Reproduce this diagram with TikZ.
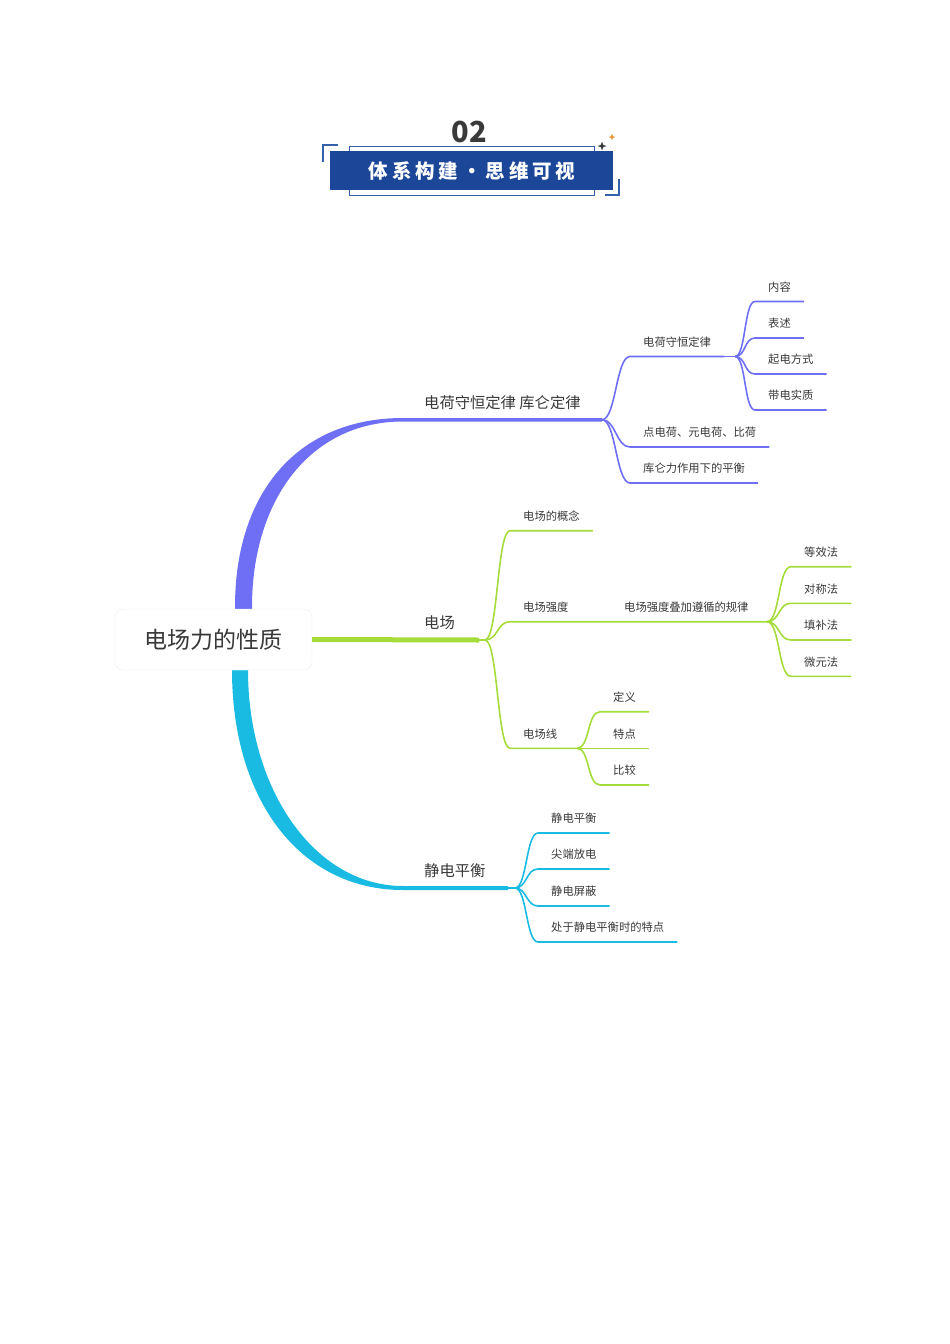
\documentclass[tikz,border=0pt]{standalone}
\usepackage{fontspec}
\setmainfont{Noto Sans CJK SC}
\newfontfamily\bannerfont[LetterSpace=20]{Noto Sans CJK SC}
\usetikzlibrary{positioning}
\definecolor{ink}{HTML}{383838}
\definecolor{cpur}{HTML}{6F6FF5}
\definecolor{cgrn}{HTML}{A5DC3A}
\definecolor{ccya}{HTML}{1ABBE3}
\definecolor{cban}{HTML}{1C4799}
\definecolor{cfrm}{HTML}{3460AC}
\definecolor{corg}{HTML}{E8952D}
\definecolor{cdot}{HTML}{3A3A3A}

\begin{document}
\begin{tikzpicture}[x=1pt, y=-1pt,
    leaf/.style={anchor=south west, text=ink, font=\fontsize{11.3}{13}\selectfont,
                 inner xsep=13pt, inner ysep=10pt, text depth=0pt},
    main/.style={anchor=south west, text=ink, font=\fontsize{15.3}{18}\selectfont,
                 inner xsep=24pt, inner ysep=11pt, text depth=0pt},
    topic/.style={draw=black!7, fill=white, rounded corners=8pt, text=ink,
                  font=\fontsize{23}{26}\selectfont, minimum width=197pt, minimum height=61pt},
    pur/.style={draw=cpur, line width=1.6pt},
    grn/.style={draw=cgrn, line width=1.6pt},
    cya/.style={draw=ccya, line width=1.6pt}]
  \useasboundingbox (0,0) rectangle (950,1344);

  % header
  \draw[cfrm, line width=1pt] (349,146) rectangle (594,195);
  \fill[cban] (330,151) rectangle (613,190);
  \draw[cfrm, line width=1.2pt] (323,162) |- (338,145);
  \draw[cfrm, line width=1.2pt] (619,179) |- (605,195);
  \node[text=cdot, font=\fontsize{29}{30}\selectfont\bfseries] (num) at (469,132) {02};
  \node[text=white, font=\bannerfont\fontsize{19.5}{22}\selectfont\bfseries] (ban) at (472,171) {体系构建·思维可视};
  \fill[cdot, shift={(602,146)}, scale=4.5] (0,-1) -- (0.25,-0.25) -- (1,0) -- (0.25,0.25)
    -- (0,1) -- (-0.25,0.25) -- (-1,0) -- (-0.25,-0.25) -- cycle;
  \fill[corg, shift={(612,137)}, scale=3.5] (0,-1) -- (0.25,-0.25) -- (1,0) -- (0.25,0.25)
    -- (0,1) -- (-0.25,0.25) -- (-1,0) -- (-0.25,-0.25) -- cycle;

  % thick branches
  \fill[cpur] (235,640) -- (235,607) .. controls (235,490) and (300,418) .. (403,418)
    -- (602,418) -- (602,421.5) -- (403,421.5) .. controls (310,421.5) and (252,500) .. (252,607)
    -- (252,640) -- cycle;
  \fill[ccya] (232,640) -- (232,670) .. controls (232,800) and (300,890) .. (403,890)
    -- (508,890) -- (508,886) -- (403,886) .. controls (315,886) and (248,790) .. (248,670)
    -- (248,640) -- cycle;
  \node[topic] (top) at (213.5,639.5) {电场力的性质};

  % level 1
  \node[main] (t1) at (400,419.7) {电荷守恒定律 库仑定律};
  \node[main] (t2) at (400,640) {电场};
  \node[main] (t3) at (400,888) {静电平衡};
  \draw[cgrn, line width=5pt] (top.east) -- (t2.south east);

  % purple
  \coordinate (fp) at (602,419.7);
  \coordinate (fh) at (735,356.5);
  \node[leaf] (hs) at (630,356.5) {电荷守恒定律};
  \node[leaf] (dd) at (630,447) {点电荷、元电荷、比荷};
  \node[leaf] (kl) at (630,483) {库仑力作用下的平衡};
  \node[leaf] (nr) at (755,301.5) {内容};
  \node[leaf] (bs) at (755,338) {表述};
  \node[leaf] (qf) at (755,374) {起电方式};
  \node[leaf] (dz) at (755,410) {带电实质};
  \foreach \n in {hs,dd,kl}
    \draw[pur] (fp) .. controls +(14,0) and +(-14,0) .. (\n.south west) -- (\n.south east);
  \draw[pur] (hs.south east) -- (fh);
  \foreach \n in {nr,bs,qf,dz}
    \draw[pur] (fh) .. controls +(11,0) and +(-11,0) .. (\n.south west) -- (\n.south east);

  % green
  \coordinate (fg) at (485,640);
  \coordinate (fq) at (767,621.7);
  \coordinate (fx) at (577,748.3);
  \node[leaf] (gn) at (510,530.7) {电场的概念};
  \node[leaf] (cq) at (510,621.7) {电场强度};
  \node[leaf] (dj) at (611,621.7) {电场强度叠加遵循的规律};
  \node[leaf] (cx) at (510,748.3) {电场线};
  \node[leaf] (dx) at (791,566.7) {等效法};
  \node[leaf] (dc) at (791,603.3) {对称法};
  \node[leaf] (tb) at (791,640) {填补法};
  \node[leaf] (wy) at (791,676.3) {微元法};
  \node[leaf] (dy) at (600,711.7) {定义};
  \node[leaf] (td) at (600,748.3) {特点};
  \node[leaf] (bj) at (600,785) {比较};
  \draw[grn] (t2.south east) -- (fg);
  \draw[grn] (fg) .. controls +(13,0) and +(-13,0) .. (gn.south west) -- (gn.south east);
  \draw[grn] (fg) .. controls +(13,0) and +(-13,0) .. (cq.south west) -- (dj.south west) -- (fq);
  \draw[grn] (fg) .. controls +(13,0) and +(-13,0) .. (cx.south west) -- (fx);
  \foreach \n in {dx,dc,tb,wy}
    \draw[grn] (fq) .. controls +(13,0) and +(-13,0) .. (\n.south west) -- (\n.south east);
  \foreach \n in {dy,td,bj}
    \draw[grn] (fx) .. controls +(13,0) and +(-13,0) .. (\n.south west) -- (\n.south east);

  % cyan
  \coordinate (fc) at (515,888);
  \node[leaf] (jp) at (538,833) {静电平衡};
  \node[leaf] (jd) at (538,869) {尖端放电};
  \node[leaf] (jb) at (538,906) {静电屏蔽};
  \node[leaf] (cd) at (538,942) {处于静电平衡时的特点};
  \draw[cya] (508,888) -- (fc);
  \foreach \n in {jp,jd,jb,cd}
    \draw[cya] (fc) .. controls +(12,0) and +(-12,0) .. (\n.south west) -- (\n.south east);
\end{tikzpicture}
\end{document}
